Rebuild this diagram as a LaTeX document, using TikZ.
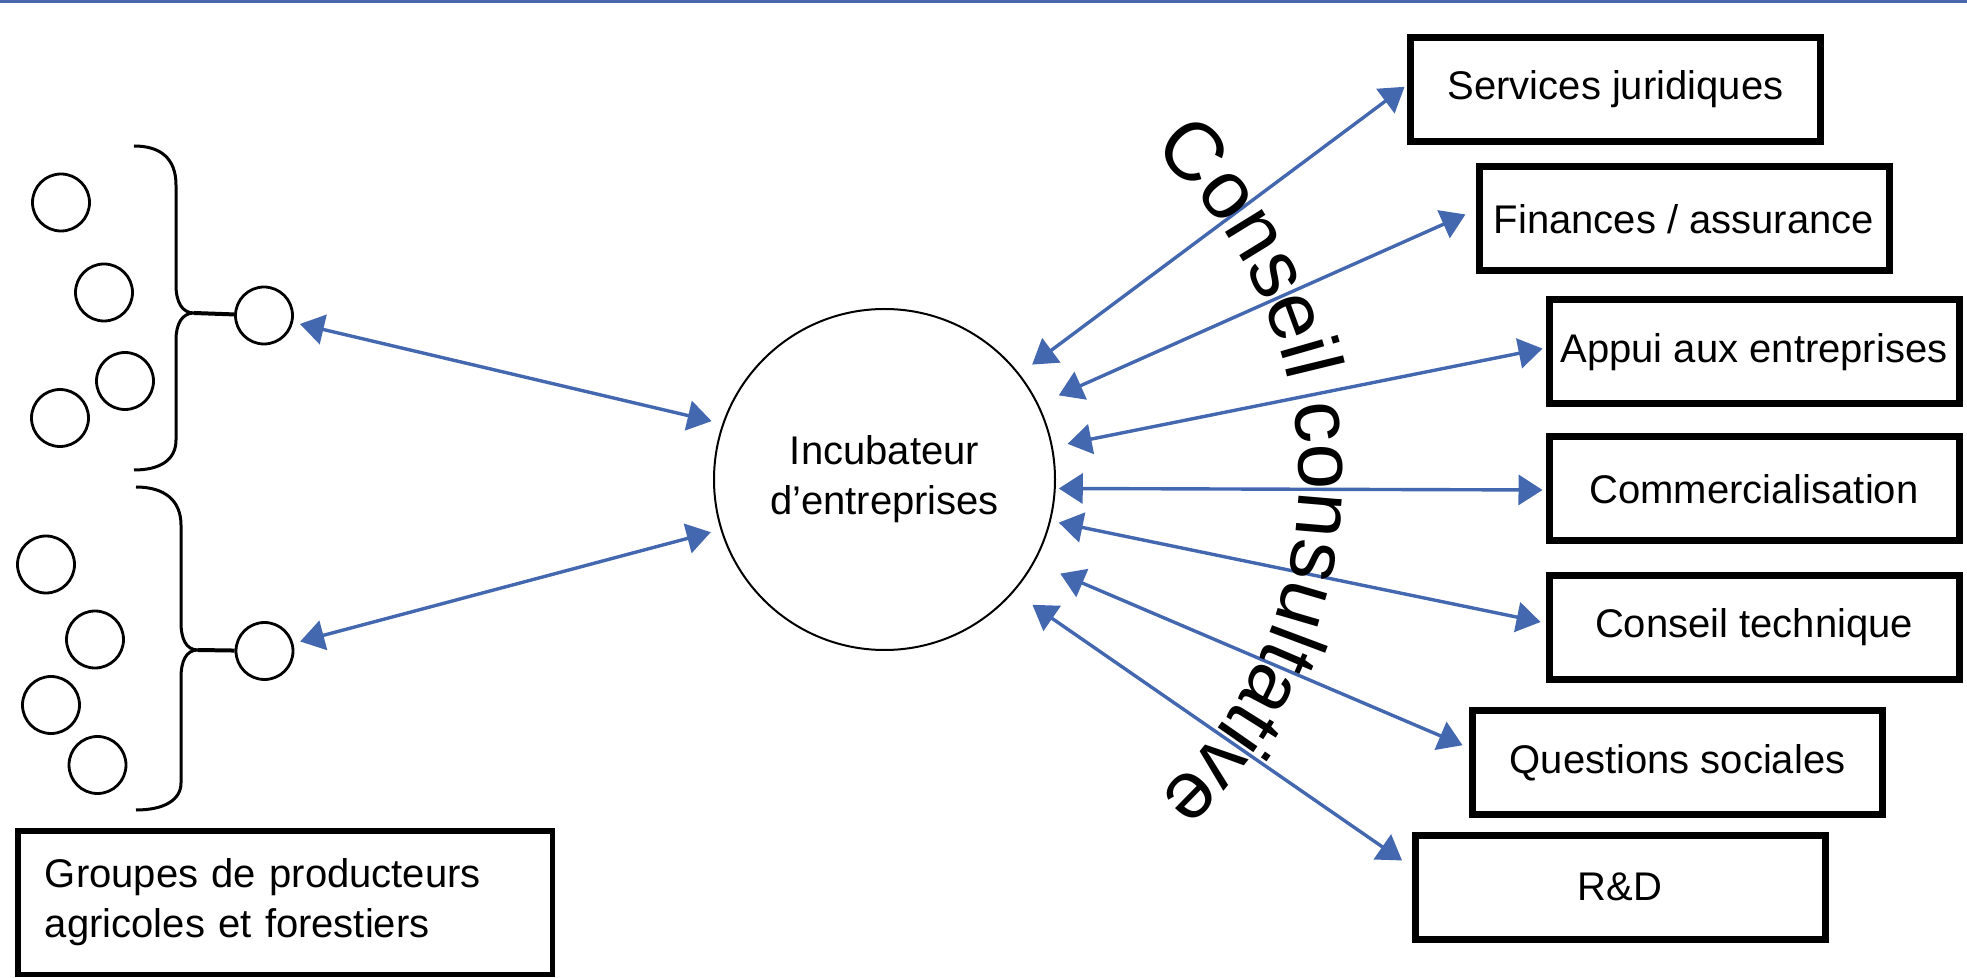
\documentclass[tikz,border=0pt]{standalone}
\usepackage{fontspec}
\setmainfont{Liberation Sans}
\usetikzlibrary{arrows.meta,decorations.text}
\definecolor{arrblue}{RGB}{68,104,176}
\definecolor{topblue}{RGB}{74,103,174}
\begin{document}
\begin{tikzpicture}[x=0.5pt,y=-0.5pt,
  txt/.style={font=\fontsize{20}{25}\selectfont},
  svc/.style={draw, line width=3.5pt, minimum width=205pt, minimum height=52pt, inner sep=0pt, txt},
  small/.style={circle, draw, line width=1.4pt, minimum size=28.5pt, inner sep=0pt},
  arr/.style={draw=arrblue, line width=1.7pt, {Triangle[length=12pt,width=15pt]}-{Triangle[length=12pt,width=15pt]}},
  brc/.style={line width=1.5pt, line join=round},
]
\useasboundingbox (0,0) rectangle (1967,978);
\fill[topblue] (0,0) rectangle (1967,3.5);

% central incubator
\node[circle, draw, line width=1pt, minimum size=170.5pt, inner sep=0pt, txt, align=center] (inc) at (884.5,479.5) {Incubateur\\d’entreprises};

% service boxes
\node[svc] (s1) at (1615.5,89.5) {Services juridiques};
\node[svc] (s2) at (1684,219) {Finances / assurance};
\node[svc] (s3) at (1754,352) {Appui aux entreprises};
\node[svc] (s4) at (1754,489) {Commercialisation};
\node[svc] (s5) at (1754,627.5) {Conseil technique};
\node[svc] (s6) at (1677.5,762.5) {Questions sociales};
\node[svc] (s7) at (1620,887) {R\&D};

% producer groups
\node[draw, line width=2.75pt, minimum width=267.25pt, minimum height=71.75pt, text width=240pt, align=left, txt] (grp) at (285,902.5) {Groupes de producteurs\\agricoles et forestiers};

\node[small] (c1) at (61,202.5) {};
\node[small] (c2) at (104,292.5) {};
\node[small] (c3) at (125,381) {};
\node[small] (c4) at (60,418) {};
\node[small] (g1) at (264,315.5) {};

\node[small] (c5) at (46,564.5) {};
\node[small] (c6) at (95,639.5) {};
\node[small] (c7) at (51,705) {};
\node[small] (c8) at (97.5,765) {};
\node[small] (g2) at (264.5,651) {};

% braces
\coordinate (b1tip) at (194,313);
\coordinate (b2tip) at (198,650);
\draw[brc] (134,146) .. controls (160,146) and (176,158) .. (176,185) -- (176,285)
  .. controls (176,302) and (182,313) .. (b1tip)
  .. controls (182,313) and (176,324) .. (176,340) -- (176,440)
  .. controls (176,460) and (160,470) .. (134,470);
\draw[line width=2pt] (b1tip) -- (g1);
\draw[brc] (136,487) .. controls (164,487) and (181,500) .. (181,525) -- (181,622)
  .. controls (181,639) and (186,650) .. (b2tip)
  .. controls (186,650) and (181,661) .. (181,678) -- (181,783)
  .. controls (181,800) and (164,810) .. (136,810);
\draw[line width=2pt] (b2tip) -- (g2);

% arrows
\draw[arr, shorten <=3.5pt, shorten >=5.5pt] (g1) -- (inc.161.6);
\draw[arr, shorten <=3.5pt, shorten >=5pt] (g2) -- (inc.197.5);

\draw[arr, shorten <=7.8pt, shorten >=1.5pt] (inc.38.3) -- ([yshift=2.25pt]s1.west);
\draw[arr, shorten <=11pt, shorten >=5.5pt] (inc.26) -- ([yshift=4.5pt]s2.west);
\draw[arr, shorten <=7.5pt, shorten >=1.5pt] (inc.11.6) -- ([yshift=2pt]s3.west);
\draw[arr, shorten <=1.5pt, shorten >=1.5pt] (inc.-3.5) -- ([yshift=-0.5pt]s4.west);
\draw[arr, shorten <=4pt, shorten >=2.5pt] (inc.-14.1) -- ([yshift=2.25pt]s5.west);
\draw[arr, shorten <=14pt, shorten >=3.5pt] (inc.-29.3) -- ([yshift=7.25pt]s6.west);
\draw[arr, shorten <=11.25pt, shorten >=5.75pt] (inc.-41.2) -- ([yshift=10pt]s7.west);

% curved label
\coordinate (arcc) at (862.8,476);
\path[decorate, decoration={text along path, text align=center,
  text={|\fontsize{41}{41}\selectfont|Conseil consultative}}]
  ([shift={(-61:436)}]arcc) arc[start angle=-61, end angle=60, radius=436];
\end{tikzpicture}
\end{document}
